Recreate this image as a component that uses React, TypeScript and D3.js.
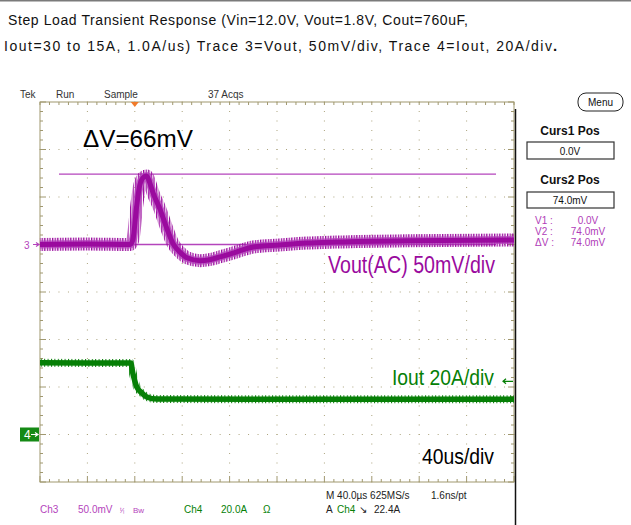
import React from 'react';
import * as d3 from 'd3';

const voutTimeUs = [-80, -40, -4, -1.7, 1.7, 4.2, 7.6, 10, 12.7, 15.2, 21, 27, 32, 38, 44, 55, 63, 72, 83, 100, 122, 145, 170, 230, 320];
const voutMv = [0, 0.5, 0, 4.7, 41.6, 62.6, 71, 72, 64.7, 55, 38, 17, 1.5, -8, -14, -17, -16, -13, -9, -2.6, -0.5, 1.5, 2.6, 4, 4.7];

// Ch4 Iout, in A
const ioutTimeUs = [-80, -40, -3.4, -1.7, 1.7, 5.9, 10.1, 18.6, 100, 320];
const ioutA = [30.2, 30.1, 30.1, 25.9, 20.0, 17.5, 15.8, 14.9, 14.8, 14.8];

const cursorsMv = [0, 74];
const triggerLevelA = 22.4;

const titleLines = [
  { text: 'Step Load Transient Response (Vin=12.0V, Vout=1.8V, Cout=760uF,', x: 8, width: 460 },
  { text: 'Iout=30 to 15A, 1.0A/us) Trace 3=Vout, 50mV/div, Trace 4=Iout, 20A/div', x: 4, width: 548 },
];
const headerItems = [
  { text: 'Tek', x: 20 },
  { text: 'Run', x: 56 },
  { text: 'Sample', x: 104 },
  { text: '37 Acqs', x: 208 },
];

const W = 631;
const H = 525;
const left = 40;
const right = 514;
const top = 102;
const bottom = 482;

const PURPLE = '#9a0a9e';
const PURPLE_LIGHT = '#b444bc';
const GREEN = '#067f06';
const GRID = '#aca47e';
const FRAME = '#a0986f';
const UI = 'Liberation Sans, Arial, sans-serif';

export default function App() {
  const x = d3.scaleLinear().domain([-80, 320]).range([left, right]);
  const yV = d3.scaleLinear().domain([-250, 150]).range([bottom, top]);
  const yI = d3.scaleLinear().domain([-20, 140]).range([bottom, top]);
  const xDiv = d3.scaleLinear().domain([0, 10]).range([left, right]);
  const yDiv = d3.scaleLinear().domain([0, 8]).range([bottom, top]);

  const vLine = d3.line<number>().x((_, i) => x(voutTimeUs[i])).y(d => yV(d)).curve(d3.curveMonotoneX);
  const iLine = d3.line<number>().x((_, i) => x(ioutTimeUs[i])).y(d => yI(d)).curve(d3.curveMonotoneX);

  const minorX = d3.range(0, 50.5).map(k => xDiv(k / 5));
  const minorY = d3.range(0, 40.5).map(k => yDiv(k / 5));

  // grid dots
  const dots: Array<[number, number]> = [];
  for (let k = 1; k < 10; k++) minorY.forEach(yy => dots.push([xDiv(k), yy]));
  for (let j = 1; j < 8; j++) minorX.forEach(xx => dots.push([xx, yDiv(j)]));

  return (
    <svg width={W} height={H} style={{ position: 'absolute', left: 0, top: 0, background: '#fff' }}>
      <defs>
        <pattern id="vnoise" patternUnits="userSpaceOnUse" width="2.6" height="12">
          <rect x="0" y="0" width="1.3" height="12" fill={PURPLE} />
        </pattern>
        <pattern id="inoise" patternUnits="userSpaceOnUse" width="3.4" height="12">
          <rect x="0" y="0" width="1" height="12" fill={GREEN} />
        </pattern>
      </defs>
      <rect x={0} y={0} width={W} height={1.5} fill="#7a7a7a" />

      {titleLines.map((t, i) => (
        <text key={i} x={t.x} y={25 + i * 26} fontFamily={UI} fontSize={14} fill="#111"
          textLength={t.width} lengthAdjust="spacing">
          {t.text}
        </text>
      ))}
      <text x={titleLines[1].x + titleLines[1].width + 1} y={51} fontFamily={UI} fontSize={15} fontWeight="bold" fill="#111">.</text>

      {headerItems.map(h => (
        <text key={h.text} x={h.x} y={98} fontFamily={UI} fontSize={10} fill="#333">{h.text}</text>
      ))}

      {/* grid */}
      {dots.map(([dx, dy], i) => (
        <rect key={i} x={dx - 0.5} y={dy - 0.5} width={1} height={1} fill={GRID} />
      ))}
      <rect x={left} y={top} width={right - left} height={bottom - top} fill="none" stroke={FRAME} strokeWidth={1} />
      {minorX.map((xx, k) => (
        <g key={'tx' + k} stroke={FRAME} strokeWidth={1}>
          <line x1={xx} x2={xx} y1={top} y2={top + 3} />
          <line x1={xx} x2={xx} y1={bottom} y2={bottom - (k % 5 === 0 ? 6 : 3)} />
        </g>
      ))}
      {minorY.map((yy, k) => (
        <g key={'ty' + k} stroke={FRAME} strokeWidth={1}>
          <line x1={left} x2={left + (k % 5 === 0 ? 6 : 3)} y1={yy} y2={yy} />
          <line x1={right} x2={right - (k % 5 === 0 ? 6 : 3)} y1={yy} y2={yy} />
        </g>
      ))}

      {/* trigger position */}
      <path d={`M${x(0) - 4},${top} L${x(0) + 4},${top} L${x(0)},${top + 5} Z`} fill="#f07a2a" />

      {/* cursors */}
      {cursorsMv.map(c => (
        <line key={c} x1={59} x2={496} y1={yV(c)} y2={yV(c)} stroke={PURPLE_LIGHT} strokeWidth={1.3} />
      ))}

      {/* traces */}
      <path d={vLine(voutMv) ?? ''} fill="none" stroke="url(#vnoise)" strokeWidth={13} />
      <path d={vLine(voutMv) ?? ''} fill="none" stroke={PURPLE_LIGHT} strokeWidth={8} opacity={0.8} />
      <path d={vLine(voutMv) ?? ''} fill="none" stroke={PURPLE} strokeWidth={5} />
      <path d={iLine(ioutA) ?? ''} fill="none" stroke="url(#inoise)" strokeWidth={8} />
      <path d={iLine(ioutA) ?? ''} fill="none" stroke={GREEN} strokeWidth={5.5} />

      {/* channel ground markers */}
      <text x={24} y={248.5} fontFamily={UI} fontSize={10} fill={PURPLE_LIGHT}>3</text>
      <path d={`M33,${yV(0)} L39,${yV(0)} M36,${yV(0) - 2} L39,${yV(0)} L36,${yV(0) + 2}`} stroke={PURPLE_LIGHT} strokeWidth={1.2} fill="none" />
      <rect x={20} y={yI(0) - 7} width={19} height={14} fill="#158a15" />
      <text x={24} y={yI(0) + 4.5} fontFamily={UI} fontSize={12} fill="#fff">4</text>
      <path d={`M31,${yI(0)} L38,${yI(0)} M35,${yI(0) - 2} L38,${yI(0)} L35,${yI(0) + 2}`} stroke="#fff" strokeWidth={1.2} fill="none" />

      {/* trigger level arrow */}
      <path d={`M503,${yI(triggerLevelA)} L513,${yI(triggerLevelA)} M506,${yI(triggerLevelA) - 2.5} L503,${yI(triggerLevelA)} L506,${yI(triggerLevelA) + 2.5}`} stroke={GREEN} strokeWidth={1.2} fill="none" />

      {/* annotations */}
      <text x={83} y={146.5} fontFamily={UI} fontSize={24} fill="#000" textLength={110} lengthAdjust="spacingAndGlyphs">ΔV=66mV</text>
      <text x={328} y={273} fontFamily={UI} fontSize={23} fill={PURPLE} textLength={167} lengthAdjust="spacingAndGlyphs">Vout(AC) 50mV/div</text>
      <text x={392} y={385} fontFamily={UI} fontSize={22} fill={GREEN} textLength={102} lengthAdjust="spacingAndGlyphs">Iout 20A/div</text>
      <text x={422} y={464} fontFamily={UI} fontSize={22} fill="#000" textLength={72} lengthAdjust="spacingAndGlyphs">40us/div</text>

      {/* right side panel */}
      <line x1={515.5} x2={515.5} y1={109} y2={H} stroke="#111" strokeWidth={1.5} />
      <rect x={578} y={93} width={45} height={18} rx={8} fill="none" stroke="#222" strokeWidth={1} />
      <text x={600.5} y={106} textAnchor="middle" fontFamily={UI} fontSize={10} fill="#111">Menu</text>
      <text x={570} y={135} textAnchor="middle" fontFamily={UI} fontSize={12} fontWeight="bold" fill="#111">Curs1 Pos</text>
      <rect x={527} y={142} width={87} height={17} fill="none" stroke="#333" strokeWidth={1.2} />
      <text x={570} y={154.5} textAnchor="middle" fontFamily={UI} fontSize={10} fill="#111">0.0V</text>
      <text x={570} y={184} textAnchor="middle" fontFamily={UI} fontSize={12} fontWeight="bold" fill="#111">Curs2 Pos</text>
      <rect x={527} y={192} width={87} height={16} fill="none" stroke="#333" strokeWidth={1.2} />
      <text x={570} y={204} textAnchor="middle" fontFamily={UI} fontSize={10} fill="#111">74.0mV</text>
      {[['V1 :', '0.0V'], ['V2 :', '74.0mV'], ['ΔV :', '74.0mV']].map(([a, b], i) => (
        <g key={a} fontFamily={UI} fontSize={10} fill="#b03cb8">
          <text x={535} y={223.5 + i * 11}>{a}</text>
          <text x={588} y={223.5 + i * 11} textAnchor="middle">{b}</text>
        </g>
      ))}

      {/* status bar */}
      <g fontFamily={UI} fontSize={10}>
        <text x={40} y={513} fill={PURPLE_LIGHT}>Ch3</text>
        <text x={78} y={513} fill={PURPLE_LIGHT}>50.0mV</text>
        <text x={120} y={513} fill={PURPLE_LIGHT} fontSize={8}>ᵗ⁄ₗ</text>
        <text x={133} y={513} fill={PURPLE_LIGHT} fontSize={8}>Bw</text>
        <text x={184} y={513} fill={GREEN}>Ch4</text>
        <text x={221} y={513} fill={GREEN}>20.0A</text>
        <text x={263} y={513} fill={GREEN}>Ω</text>
        <text x={326} y={499} fill="#222">M 40.0µs 625MS/s</text>
        <text x={431} y={499} fill="#222">1.6ns/pt</text>
        <text x={326} y={513} fill="#222">A</text>
        <text x={337} y={513} fill={GREEN}>Ch4</text>
        <text x={359} y={513} fill="#222">↘</text>
        <text x={374} y={513} fill="#222">22.4A</text>
      </g>
    </svg>
  );
}
